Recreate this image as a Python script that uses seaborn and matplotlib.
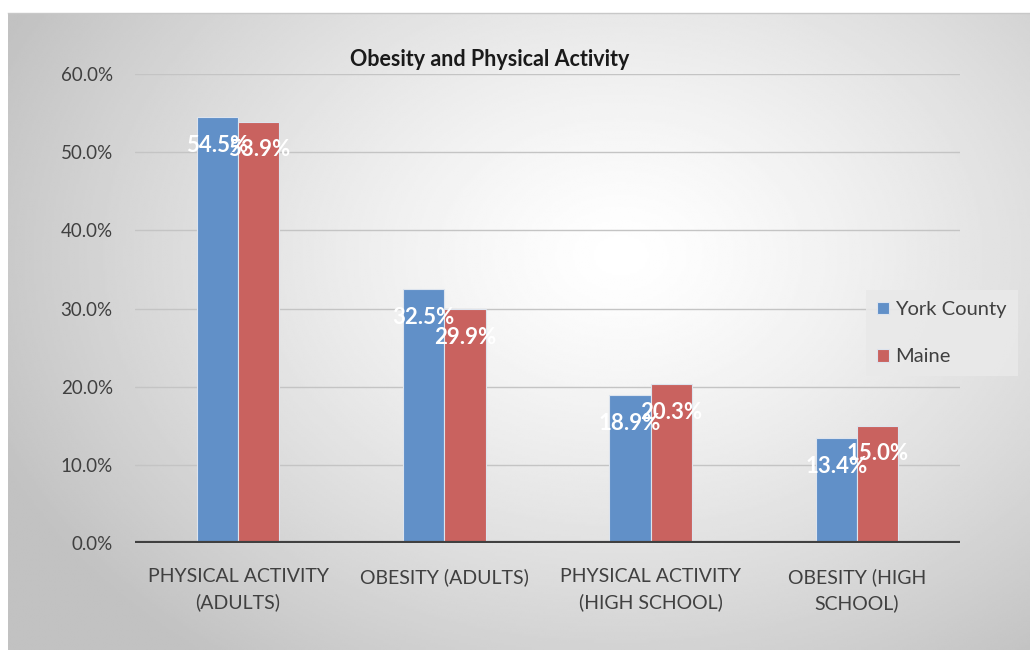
import matplotlib
matplotlib.use('Agg')
import matplotlib.pyplot as plt
import numpy as np
import pandas as pd
import seaborn as sns

# данные диаграммы
categories = ['PHYSICAL ACTIVITY\n(ADULTS)', 'OBESITY (ADULTS)',
              'PHYSICAL ACTIVITY\n(HIGH SCHOOL)', 'OBESITY (HIGH\nSCHOOL)']
series = ['York County', 'Maine']
york_values = [54.5, 32.5, 18.9, 13.4]
maine_values = [53.9, 29.9, 20.3, 15.0]
y_ticks = [0, 10, 20, 30, 40, 50, 60]

colors = ['#6190C8', '#C9625F']

df = pd.DataFrame({
    'category': categories * 2,
    'series': [series[0]] * 4 + [series[1]] * 4,
    'value': york_values + maine_values,
})

sns.set_theme(style='white')
plt.rcParams['font.family'] = ['Lato', 'DejaVu Sans']

fig = plt.figure(figsize=(10.3, 6.5), dpi=100)
fig.patch.set_facecolor('white')

# фон с радиальным градиентом
bg = fig.add_axes([8 / 1030, 0, 1 - 8 / 1030, 1 - 13 / 650])
yy, xx = np.mgrid[0:1:300j, 0:1:500j]
r = np.sqrt(((xx - 0.6) / 0.75) ** 2 + ((yy - 0.38) / 0.9) ** 2)
shade = np.clip(1 - 0.28 * r ** 1.3, 0.76, 1.0)
bg.imshow(shade, cmap='gray', vmin=0, vmax=1, aspect='auto',
          extent=[0, 1, 1, 0], interpolation='bilinear')
bg.set_xticks([])
bg.set_yticks([])
for s in bg.spines.values():
    s.set_color('#c8c8c8')
    s.set_linewidth(1)
bg.spines['left'].set_visible(False)
bg.spines['right'].set_visible(False)
bg.spines['bottom'].set_visible(False)

ax = fig.add_axes([135 / 1030, 1 - 543 / 650, 825 / 1030, (543 - 74) / 650])
ax.patch.set_alpha(0)

sns.barplot(data=df, x='category', y='value', hue='series', order=categories,
            hue_order=series, palette=colors, saturation=1, width=0.4, gap=0.0,
            edgecolor='#dde4ee', linewidth=0.8, ax=ax, zorder=3)

ax.set_ylim(0, 60)
ax.set_xlim(-0.5, 3.5)
ax.set_yticks(y_ticks)
ax.set_yticklabels([f'{t:.1f}%' for t in y_ticks], fontsize=13.5, color='#404040')
ax.set_xticks(range(len(categories)))
ax.set_xticklabels(categories, fontsize=14, color='#404040', linespacing=1.55)
ax.tick_params(axis='x', length=0, pad=18)
ax.tick_params(axis='y', length=0, pad=16)
ax.set_xlabel('')
ax.set_ylabel('')
ax.grid(axis='y', color='#c4c4c4', linewidth=1, zorder=0)
ax.axhline(0, color='#404040', linewidth=3, zorder=4)
for s in ax.spines.values():
    s.set_visible(False)

# подписи значений
for i in range(len(categories)):
    ax.text(i - 0.1, york_values[i] - 3.6, f'{york_values[i]:.1f}%', ha='center',
            va='center', color='white', fontsize=16, fontweight='bold', zorder=5)
    ax.text(i + 0.1, maine_values[i] - 3.6, f'{maine_values[i]:.1f}%', ha='center',
            va='center', color='white', fontsize=16, fontweight='bold', zorder=5)

fig.text(490 / 1030, 1 - 60 / 650, 'Obesity and Physical Activity', ha='center',
         va='center', fontsize=15.5, fontweight='bold', color='#1a1a1a')

leg = ax.legend(loc='upper left', bbox_to_anchor=(866 / 1030, 1 - 290 / 650),
                bbox_transform=fig.transFigure, frameon=True, fontsize=14.5,
                handlelength=0.6, handleheight=0.6, handletextpad=0.3,
                labelspacing=1.5, borderpad=0.55, borderaxespad=0,
                fancybox=False)
leg.get_frame().set_facecolor('#e9e9e9')
leg.get_frame().set_edgecolor('none')
leg.get_frame().set_alpha(0.9)
for t in leg.get_texts():
    t.set_color('#404040')

fig.savefig('out.png', dpi=100)
